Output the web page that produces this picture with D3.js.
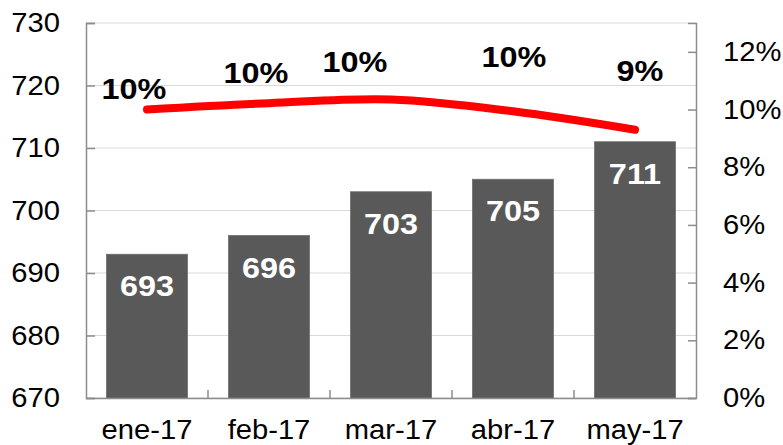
<!DOCTYPE html>
<html lang="es">
<head>
    <meta charset="UTF-8" />
    <title>Precio y variación</title>
    <script src="https://d3js.org/d3.v7.min.js"></script>
    <style>
        body {
            margin: 0;
            background: #fff;
        }
        svg text {
            font-family: "Liberation Sans", Arial, sans-serif;
        }
    </style>
</head>
<body>
<svg id="chart" width="783" height="445"></svg>
<script>
    // Datos
    const months = ["ene-17", "feb-17", "mar-17", "abr-17", "may-17"];
    const values = [693, 696, 703, 705, 711];
    const rates = [0.100, 0.1022, 0.1035, 0.0994, 0.093];
    const leftTicks = [670, 680, 690, 700, 710, 720, 730];
    const rightTicks = [0, 0.02, 0.04, 0.06, 0.08, 0.10, 0.12];

    // posición manual de las etiquetas de la línea (como en el original)
    const labelShift = [[-13, -11], [-13, -20], [-36, -27], [1, -44], [5, -49]];

    const stretch = 1.08; // el texto original está un poco estirado en horizontal
    const margin = { top: 23, right: 87, bottom: 47, left: 86 };
    const width = 783 - margin.left - margin.right;
    const height = 445 - margin.top - margin.bottom;

    const svg = d3.select("#chart")
        .append("g")
        .attr("transform", `translate(${margin.left},${margin.top})`);

    const x = d3.scaleBand()
        .domain(months)
        .range([0, width])
        .paddingInner(0.336)
        .paddingOuter(0.168);

    const y = d3.scaleLinear().domain([670, 730]).range([height, 0]);
    const y2 = d3.scaleLinear().domain([0, 0.13]).range([height, 0]);

    // texto estirado
    function stretchText(sel) {
        sel.each(function () {
            const t = d3.select(this);
            const tx = +t.attr("x") || 0;
            t.attr("x", tx / stretch)
                .attr("transform", (t.attr("transform") || "") + ` scale(${stretch},1)`);
        });
    }

    // Líneas de cuadrícula
    svg.append("g")
        .selectAll("line")
        .data(leftTicks)
        .join("line")
        .attr("x1", 0)
        .attr("x2", width)
        .attr("y1", d => y(d))
        .attr("y2", d => y(d))
        .attr("stroke", "#d9d9d9")
        .attr("stroke-width", 1.2);

    // Barras
    svg.append("g")
        .selectAll("rect")
        .data(values)
        .join("rect")
        .attr("x", (d, i) => x(months[i]))
        .attr("y", d => y(d))
        .attr("width", x.bandwidth())
        .attr("height", d => height - y(d))
        .attr("fill", "#595959")
        .attr("stroke", "#6e6e6e")
        .attr("stroke-width", 0.8);

    svg.append("g")
        .selectAll("text")
        .data(values)
        .join("text")
        .attr("transform", (d, i) => `translate(${x(months[i]) + x.bandwidth() / 2},${y(d) + 42})`)
        .attr("text-anchor", "middle")
        .attr("fill", "#fff")
        .attr("font-size", 30)
        .attr("font-weight", "bold")
        .text(d => d)
        .call(stretchText);

    // Eje izquierdo
    const axL = svg.append("g")
        .call(d3.axisLeft(y).tickValues(leftTicks).tickSize(-9).tickPadding(26));
    axL.select(".domain").attr("stroke", "#8c8c8c").attr("stroke-width", 1.5);
    axL.selectAll(".tick line").attr("stroke", "#8c8c8c").attr("stroke-width", 1.5);
    axL.selectAll(".tick text")
        .attr("font-size", 27)
        .attr("fill", "#000")
        .call(stretchText);

    // Eje derecho
    const axR = svg.append("g")
        .attr("transform", `translate(${width},0)`)
        .call(d3.axisRight(y2).tickValues(rightTicks).tickFormat(d3.format(".0%")).tickSize(-8).tickPadding(27));
    axR.select(".domain").attr("stroke", "#8c8c8c").attr("stroke-width", 1.5);
    axR.selectAll(".tick line").attr("stroke", "#8c8c8c").attr("stroke-width", 1.5);
    axR.selectAll(".tick text")
        .attr("font-size", 27)
        .attr("fill", "#000")
        .call(stretchText);

    // Eje inferior (marcas entre categorías)
    const axB = svg.append("g")
        .attr("transform", `translate(0,${height})`)
        .call(d3.axisBottom(x).tickSize(0).tickPadding(22));
    axB.select(".domain").attr("stroke", "#8c8c8c").attr("stroke-width", 1.5);
    axB.selectAll(".tick text")
        .attr("font-size", 27)
        .attr("fill", "#000")
        .call(stretchText);
    axB.selectAll(".sep")
        .data(months.slice(1))
        .join("line")
        .attr("class", "sep")
        .attr("x1", d => x(d) - x.step() * x.paddingInner() / 2)
        .attr("x2", d => x(d) - x.step() * x.paddingInner() / 2)
        .attr("y1", 0)
        .attr("y2", -8)
        .attr("stroke", "#8c8c8c")
        .attr("stroke-width", 1.5);

    // Línea de variación
    const line = d3.line()
        .x((d, i) => x(months[i]) + x.bandwidth() / 2)
        .y(d => y2(d))
        .curve(d3.curveCatmullRom.alpha(0.5));

    svg.append("path")
        .datum(rates)
        .attr("d", line)
        .attr("fill", "none")
        .attr("stroke", "#ff0000")
        .attr("stroke-width", 8)
        .attr("stroke-linecap", "round");

    svg.append("g")
        .selectAll("text")
        .data(rates)
        .join("text")
        .attr("transform", (d, i) =>
            `translate(${x(months[i]) + x.bandwidth() / 2 + labelShift[i][0]},${y2(d) + labelShift[i][1]})`)
        .attr("text-anchor", "middle")
        .attr("fill", "#000")
        .attr("font-size", 30)
        .attr("font-weight", "bold")
        .text(d => d3.format(".0%")(d))
        .call(stretchText);
</script>
</body>
</html>
